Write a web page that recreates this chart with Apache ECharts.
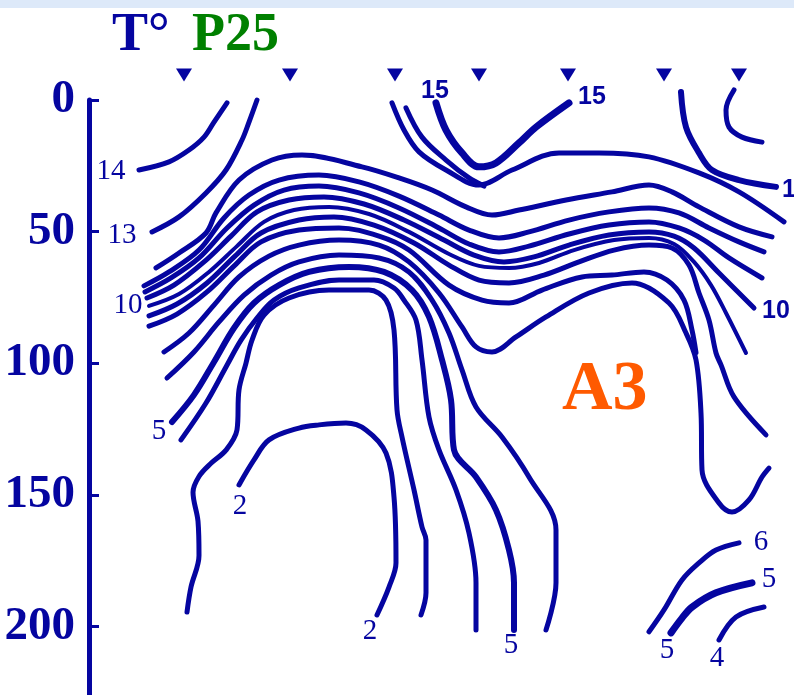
<!DOCTYPE html>
<html><head><meta charset="utf-8">
<script src="https://cdn.jsdelivr.net/npm/echarts@6/dist/echarts.min.js"></script>
<style>html,body{margin:0;padding:0;background:#fff}#c{width:794px;height:695px}</style>
</head><body><div id="c"></div>
<script>
// ---- data (x = distance along section, depth in m) ----
const depthTicks = [0, 50, 100, 150, 200];
const stationX = [95, 201, 306, 390, 479, 575, 650];
const stationDepth = -9.5;

const iso14 = [[50,26.6],[80,23.5],[100,19],[115,14.1],[125,8.4],[138,1.1]];
const iso13 = [[63,50.1],[90,44.4],[117,35.3],[137,26.6],[153,15.2],[160,8.4],[168,0]];
const isoSt3a = [[303,1.1],[315,11.4],[330,19.7],[357,26.6],[390,32.3],[423,26.6],[470,20.1],[510,20.1],[560,21.6],[610,27.7],[650,34.9],[695,46.3]];
const isoSt3b = [[317,3],[333,14.1],[357,22.8],[380,29.6],[395,32.7]];
const iso15 = [[347,1.1],[357,11.4],[373,20.1],[390,25.4],[407,23.9],[430,16.3],[447,10.3],[480,1.1]];
const isoSt6 = [[592,-3],[597,10.3],[610,20.1],[623,26.6],[650,30.4],[687,33]];
const isoSt7 = [[645,-3.8],[637,3.8],[640,10.3],[653,14.1],[673,16]];
const isoB = [[67,63.8],[90,58.1],[117,50.5],[127,42.9],[150,30.4],[183,22.8],[213,20.9],[273,25.4],[310,29.6],[343,34.2],[377,40.6],[403,43.7],[430,41.8],[477,38],[523,34.9],[560,32.3],[583,34.9],[610,40.6],[650,48.2],[683,52]];
const isoC = [[55,70.6],[80,65.3],[110,57],[135,44.8],[160,36.1],[190,30.4],[230,28.5],[270,31.1],[310,36.5],[350,43.7],[380,49.4],[410,52.4],[440,50.1],[480,45.6],[520,42.5],[560,41],[590,42.9],[620,48.6],[650,53.9],[675,57.7]];
const isoD = [[56,72.9],[82,67.6],[110,60],[138,48.6],[165,39.9],[195,34.2],[230,32.7],[270,35.3],[310,41],[350,48.6],[380,54.7],[410,57.7],[440,55.5],[480,50.9],[520,47.5],[560,46.3],[590,48.6],[615,53.2],[640,60],[673,67.6]];
const isoE = [[58,75.2],[85,70.3],[115,61.5],[142,51.7],[168,42.5],[200,38],[235,36.8],[275,39.5],[315,45.6],[355,53.2],[385,58.9],[415,61.5],[445,59.6],[480,55.1],[520,51.3],[560,50.1],[585,51.7],[605,56.2],[630,65.7],[665,79]];
const isoF = [[60,78.2],[90,73.7],[120,65.3],[148,55.5],[175,46.3],[205,41.8],[240,40.6],[280,43.3],[320,50.1],[360,58.5],[390,63],[420,63.8],[450,61.9],[485,57],[525,53.2],[560,52.4],[585,54.7],[605,61.5],[622,70.3],[637,80.9],[657,96.1]];
const isoG = [[60,82],[88,77.5],[118,69.5],[146,59.3],[172,50.5],[210,45.6],[245,44.4],[285,47.5],[325,54.3],[360,62.7],[390,68.4],[420,69.5],[455,66.5],[490,61.5],[525,57],[560,55.1],[583,56.2],[600,62.7],[610,73.3],[620,83.6],[627,96.1],[632,100.6],[645,112.8],[677,127.2]];
const isoV = [[60,85.9],[88,81.3],[118,72.9],[146,62.7],[172,53.9],[210,49.4],[250,48.6],[290,51.7],[320,57],[360,70.3],[393,76],[420,77.1],[453,72.2],[493,67.2],[523,66.5],[555,65.3],[578,68.4],[595,76],[603,87.4],[607,96]];
const isoValley = [[75,95.7],[100,88.5],[125,77.9],[150,67.2],[180,59.3],[210,55.1],[250,53.2],[290,55.1],[320,61.5],[350,73.3],[373,86.2],[387,93.8],[403,95.7],[427,90],[457,82.4],[500,73.3],[543,69.5],[580,77.1],[597,88.5],[607,98.7],[612,118.9],[613,140.5],[630,153.1],[643,156.5],[660,151.9],[673,143.2],[680,139.8]];
const isoArchH = [[78,105.6],[105,95.7],[130,84.3],[155,74.1],[182,66.5],[210,61.5],[250,58.9],[290,60],[320,65.3],[343,76],[360,88.5],[373,102.5],[387,116.6],[413,128],[440,143.2],[467,163.3],[467,183.4],[457,201.3]];
const isoArchI = [[83,122.3],[105,112],[125,99.5],[145,86.6],[165,77.1],[190,70.3],[220,65.3],[260,63.4],[295,65.3],[323,72.2],[340,82.4],[353,98.7],[362,113.9],[365,132.9],[387,143.2],[407,155.7],[420,170.9],[425,183.4],[425,201.3]];
const isoArchJ = [[92,129.1],[117,115.1],[137,101.4],[152,91.2],[168,82.8],[185,76],[210,71.4],[250,68.4],[285,68.4],[305,71.4],[315,76],[327,83.6],[333,98.7],[340,120.4],[350,132.9],[367,148.1],[380,164.5],[387,183.4],[387,201.3]];
const isoArchK = [[98,194.5],[102,185],[110,173],[109,160],[104,149],[110,143],[122,138],[137,133],[148,125.3],[150,110.1],[157,99.9],[163,91.2],[175,81.7],[200,75.2],[240,72.2],[280,72.2],[297,76],[305,87.4],[308,117.7],[313,128],[325,148.1],[333,162.2],[337,167.1],[337,187.2],[332,195.6]];
const isoDome = [[150,146.2],[165,136.7],[180,129.1],[210,124.6],[230,123.4],[257,122.7],[277,125.3],[297,134.1],[305,150.8],[307,175.8],[300,185],[288,195.6]];
const iso6 = [[560,202],[575,193.7],[593,182.3],[610,175.8],[627,170.9],[650,168.2]];
const iso5r = [[582,202.4],[593,196.8],[603,192.6],[627,187.2],[663,183.4]];
const iso4 = [[630,205.1],[647,196.4],[675,192.6]];

const serifLabels = [[22,27,'14'],[33,51.3,'13'],[39,78.2,'10'],[70,125.7,'5'],[151,154.2,'2'],[281,201.7,'2'],[422,207,'5'],[672,168.2,'6'],[680,182,'5'],[578,209,'5'],[628,212,'4']];
const sansLabels = [[346,-3.4,'15'],[503,-1.1,'15']];
const edgeLabels = [[693,34.2,'14'],[673,80.1,'10']];

// ---- styling / assembly ----
const BLUE = '#0505a0';
const lines = [
  [iso14,5],[iso13,5],[isoSt3a,5],[isoSt3b,5],[iso15,7],[isoSt6,6],[isoSt7,5],
  [isoB,5],[isoC,5],[isoD,5],[isoE,5],[isoF,4],[isoG,5],[isoV,5],[isoValley,5],
  [isoArchH,5],[isoArchI,6],[isoArchJ,5],[isoArchK,5],[isoDome,5],
  [iso6,5],[iso5r,7],[iso4,5]
];
const series = lines.map(([d,w]) => ({
  type:'line', data:d, showSymbol:false, smooth:0.35, clip:false, silent:true,
  lineStyle:{color:BLUE, width:w, cap:'round', join:'round'}
}));
series.push({
  type:'scatter', clip:false, silent:true, symbol:'triangle', symbolRotate:180, symbolSize:[16,13],
  itemStyle:{color:BLUE, opacity:1}, data: stationX.map(x => [x, stationDepth])
});
function labelSeries(arr, lab) {
  return {
    type:'scatter', clip:false, silent:true, symbolSize:0, itemStyle:{opacity:1},
    data: arr.map(l => ({value:[l[0],l[1]], name:l[2]})),
    label:Object.assign({show:true, position:'inside', formatter:p=>p.name, color:BLUE}, lab)
  };
}
series.push(labelSeries(serifLabels, {fontFamily:'Liberation Serif', fontSize:29}));
series.push(labelSeries(sansLabels, {fontFamily:'Liberation Sans', fontWeight:'bold', fontSize:25}));
series.push(labelSeries(edgeLabels, {fontFamily:'Liberation Sans', fontWeight:'bold', fontSize:25, align:'left'}));

const chart = echarts.init(document.getElementById('c'), null, {renderer:'canvas'});
chart.setOption({
  animation:false,
  backgroundColor:'#ffffff',
  grid:{left:89, right:0, top:100, bottom:0},
  xAxis:{type:'value', min:0, max:705, show:false},
  yAxis:{type:'value', inverse:true, min:0, max:226, interval:50,
    axisLine:{show:true, lineStyle:{color:BLUE, width:5}},
    axisTick:{show:true, inside:true, length:10, lineStyle:{color:BLUE, width:3}, customValues:depthTicks},
    axisLabel:{color:BLUE, fontFamily:'Liberation Serif', fontWeight:'bold', fontSize:47, margin:14, padding:[5,0,0,0], customValues:depthTicks},
    splitLine:{show:false}
  },
  graphic:[
    {type:'rect', left:0, top:0, shape:{width:794, height:8}, style:{fill:'#dde9f9'}, silent:true},
    {type:'text', x:112, y:36, style:{text:'T°', fill:BLUE, font:'bold 54px "Liberation Serif"', verticalAlign:'middle'}, silent:true},
    {type:'text', x:192, y:36, style:{text:'P25', fill:'#008000', font:'bold 54px "Liberation Serif"', verticalAlign:'middle'}, silent:true},
    {type:'text', x:562, y:391, style:{text:'A3', fill:'#ff5a00', font:'bold 70px "Liberation Serif"', verticalAlign:'middle'}, silent:true}
  ],
  series: series
});
</script></body></html>
